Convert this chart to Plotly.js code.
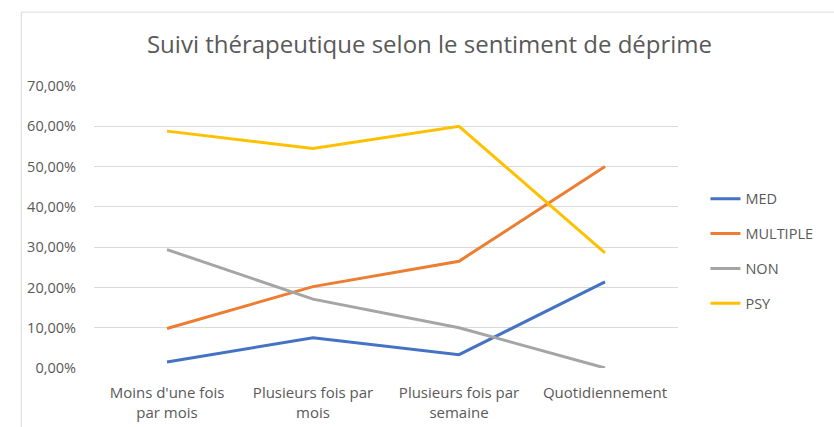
<!DOCTYPE html>
<html><head><meta charset="utf-8">
<script src="https://cdn.plot.ly/plotly-3.0.1.min.js"></script>
<style>body{margin:0;background:#fff}#c{width:834px;height:427px}</style>
</head><body><div id="c"></div>
<script>
const categories = ["Moins d'une fois<br>par mois", "Plusieurs fois par<br>mois", "Plusieurs fois par<br>semaine", "Quotidiennement"];
const seriesNames = ["MED", "MULTIPLE", "NON", "PSY"];
const med = [1.5, 7.5, 3.3, 21.4];
const multiple = [9.8, 20.2, 26.5, 50.0];
const non = [29.4, 17.1, 10.0, 0.0];
const psy = [58.8, 54.5, 60.0, 28.6];
const yTickVals = [0, 10, 20, 30, 40, 50, 60, 70];
const yTickText = ["0,00%", "10,00%", "20,00%", "30,00%", "40,00%", "50,00%", "60,00%", "70,00%"];
const colors = ["#4472C4", "#ED7D31", "#A5A5A5", "#FFC000"];
const values = [med, multiple, non, psy];

const traces = values.map((v, i) => ({
  x: [0, 1, 2, 3], y: v, type: 'scatter', mode: 'lines',
  name: seriesNames[i], legendgroup: seriesNames[i],
  line: {color: colors[i], width: 3}, hoverinfo: 'skip'
}));

const layout = {
  width: 834, height: 427,
  margin: {l: 94, r: 156, t: 86, b: 59, pad: 0},
  paper_bgcolor: '#fff', plot_bgcolor: '#fff',
  font: {family: 'Open Sans, Liberation Sans, sans-serif', color: '#595959', size: 14},
  title: {text: 'Suivi thérapeutique selon le sentiment de déprime', x: 0.515, xanchor: 'center', y: 0.895, yanchor: 'middle',
          font: {size: 24, color: '#595959', family: 'Open Sans, sans-serif'}},
  xaxis: {range: [-0.5, 3.5], tickvals: [0, 1, 2, 3], ticktext: categories, showgrid: false, zeroline: false,
          showline: false, ticks: '', ticklabelstandoff: 14, tickfont: {size: 15, color: '#595959'}, fixedrange: true},
  yaxis: {range: [0, 70], tickvals: yTickVals, ticktext: yTickText, showgrid: true, gridcolor: '#D9D9D9', gridwidth: 1,
          zeroline: false, showline: false, ticks: '', ticklabelstandoff: 17, tickfont: {size: 14.5, color: '#595959'}, fixedrange: true},
  showlegend: true,
  legend: {x: 1.047, xanchor: 'left', y: 0.414, yanchor: 'middle', traceorder: 'grouped', tracegroupgap: 13,
           font: {size: 14.5, color: '#595959'}, bgcolor: 'rgba(0,0,0,0)'},
  shapes: [{type: 'rect', xref: 'paper', yref: 'paper', x0: -0.1245, x1: 1.3, y0: -0.3, y1: 1.262,
            line: {color: '#D9D9D9', width: 1}, fillcolor: 'rgba(0,0,0,0)', layer: 'below'}]
};
Plotly.newPlot('c', traces, layout, {displayModeBar: false, staticPlot: true});
</script></body></html>
